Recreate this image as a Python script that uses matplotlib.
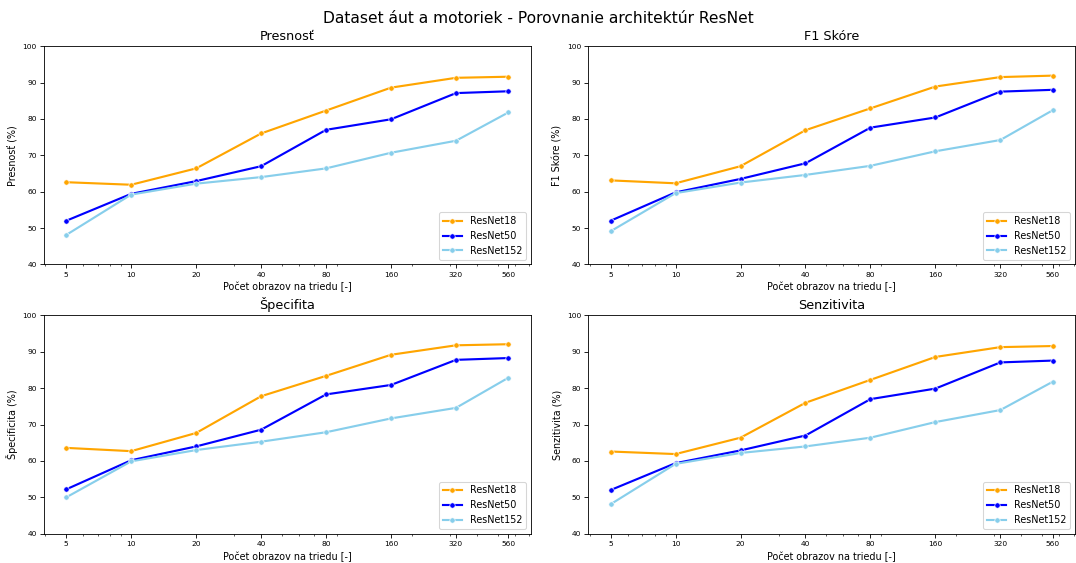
import matplotlib
matplotlib.use("Agg")
import matplotlib.pyplot as plt
from matplotlib.ticker import ScalarFormatter, NullFormatter

# -----------------------------
# Data
# -----------------------------
samples = [5, 10, 20, 40, 80, 160, 320, 560]
models = ["ResNet18", "ResNet50", "ResNet152"]
colors = ["orange", "blue", "skyblue"]

presnost = {
    "ResNet18": [62.6, 61.9, 66.4, 76.0, 82.3, 88.6, 91.3, 91.6],
    "ResNet50": [52.0, 59.4, 62.9, 67.0, 77.0, 79.9, 87.1, 87.6],
    "ResNet152": [48.1, 59.2, 62.2, 64.0, 66.4, 70.7, 74.0, 81.8],
}
f1_skore = {
    "ResNet18": [63.1, 62.3, 67.0, 76.9, 82.9, 88.9, 91.5, 91.9],
    "ResNet50": [52.0, 59.8, 63.5, 67.8, 77.6, 80.4, 87.5, 88.0],
    "ResNet152": [49.1, 59.6, 62.5, 64.6, 67.1, 71.1, 74.2, 82.4],
}
specifita = {
    "ResNet18": [63.6, 62.7, 67.7, 77.8, 83.4, 89.2, 91.8, 92.1],
    "ResNet50": [52.2, 60.2, 64.0, 68.6, 78.3, 80.9, 87.8, 88.3],
    "ResNet152": [50.0, 59.9, 63.0, 65.3, 67.9, 71.7, 74.6, 82.9],
}
senzitivita = {
    "ResNet18": [62.6, 61.9, 66.4, 76.0, 82.3, 88.6, 91.3, 91.6],
    "ResNet50": [52.0, 59.4, 62.9, 67.0, 77.0, 79.9, 87.1, 87.6],
    "ResNet152": [48.1, 59.2, 62.2, 64.0, 66.4, 70.7, 74.0, 81.8],
}

panels = [
    ("Presnosť", "Presnosť (%)", presnost),
    ("F1 Skóre", "F1 Skóre (%)", f1_skore),
    ("Špecifita", "Špecificita (%)", specifita),
    ("Senzitivita", "Senzitivita (%)", senzitivita),
]

# -----------------------------
# Plot
# -----------------------------
dpi = 1076 / 14
fig, axes = plt.subplots(2, 2, figsize=(14, 563 / dpi), dpi=dpi)
fig.subplots_adjust(left=0.041, right=0.999, top=0.918, bottom=0.052,
                    wspace=0.119, hspace=0.234)

for ax, (title, ylabel, data) in zip(axes.flat, panels):
    for model, color in zip(models, colors):
        ax.plot(samples, data[model], color=color, linewidth=2,
                marker="o", markersize=5, markeredgecolor="white",
                markeredgewidth=0.6, label=model)

    ax.set_xscale("log")
    ax.set_xticks(samples)
    ax.xaxis.set_major_formatter(ScalarFormatter())
    ax.xaxis.set_minor_formatter(NullFormatter())
    ax.set_ylim(40, 100)
    ax.tick_params(axis="both", labelsize=7)

    ax.set_title(title, fontsize=12)
    ax.set_xlabel("Počet obrazov na triedu [-]", fontsize=9)
    ax.set_ylabel(ylabel, fontsize=9)
    ax.legend(loc="lower right", fontsize=9)

fig.text(0.5, 0.968, "Dataset áut a motoriek - Porovnanie architektúr ResNet",
         ha="center", va="center", fontsize=14.5)

plt.savefig("out.png", dpi=dpi, facecolor="white")
